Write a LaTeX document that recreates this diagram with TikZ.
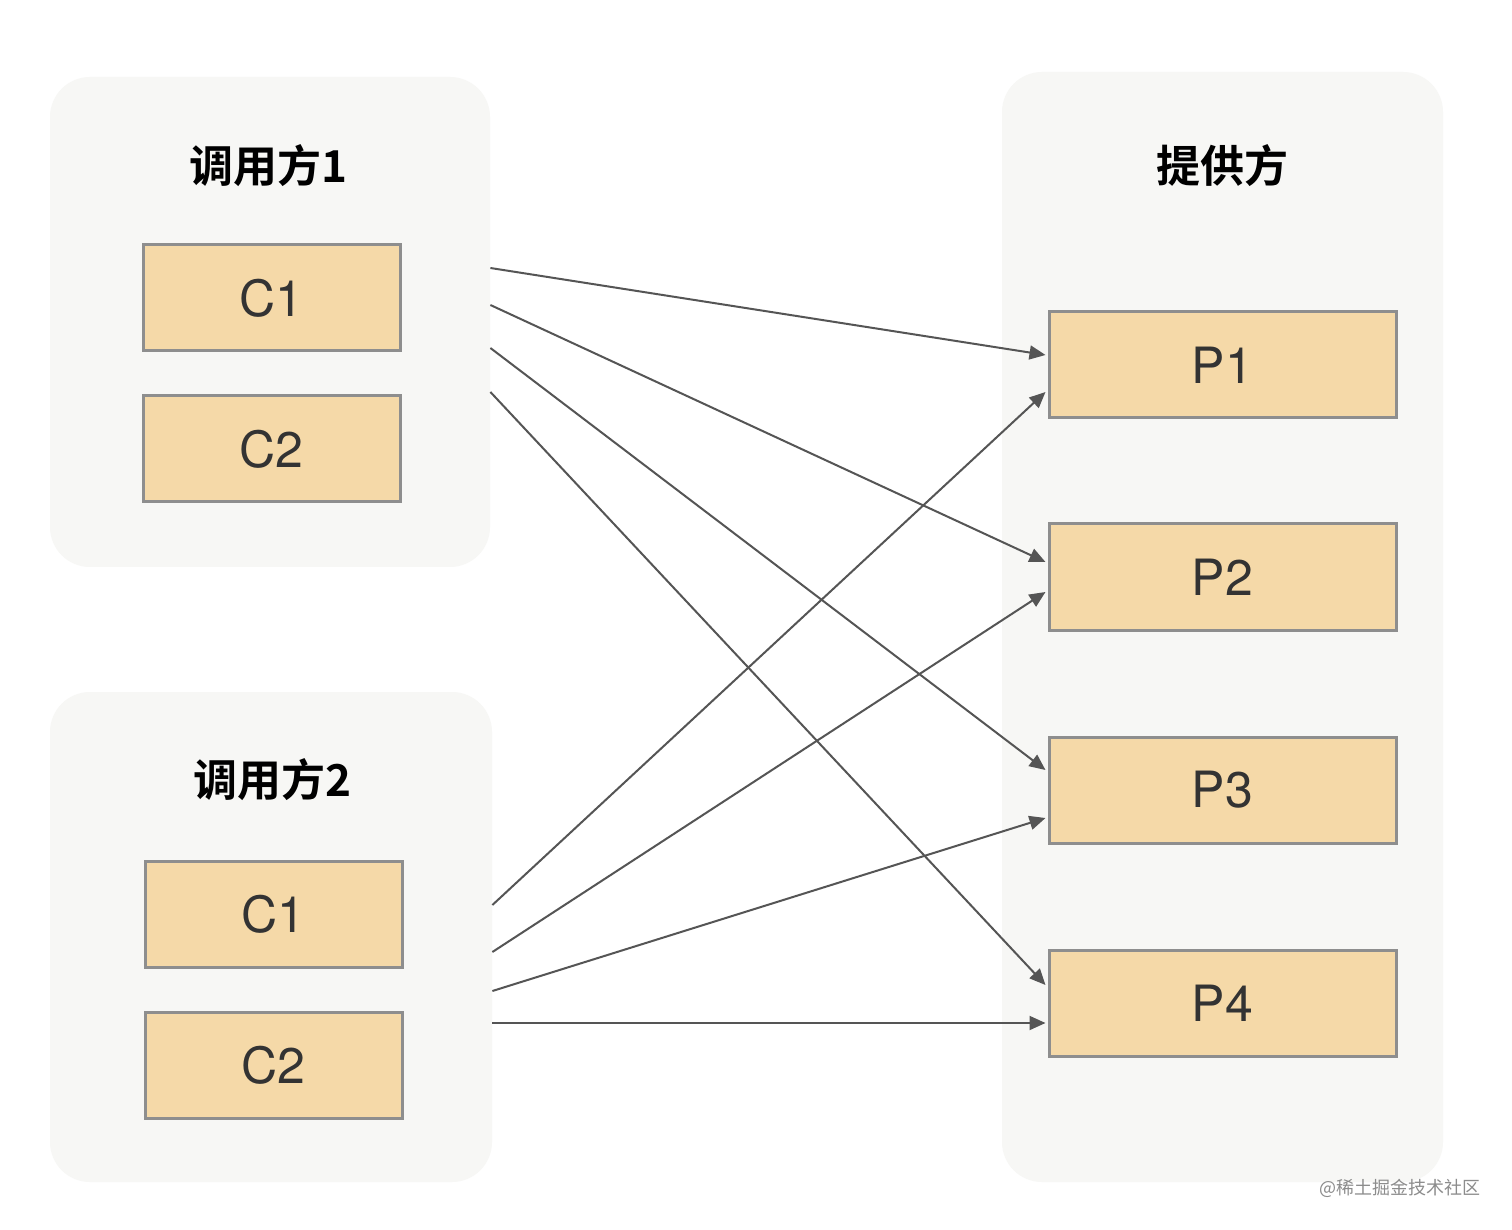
\documentclass[tikz,border=0pt]{standalone}
\usepackage{fontspec}
\setmainfont{TeX Gyre Heros}
\newfontfamily\cjkbold[BoldFont={Noto Sans CJK SC Bold}]{Noto Sans CJK SC}
\newfontfamily\cjk{Noto Sans CJK SC}
\usetikzlibrary{arrows.meta}

\definecolor{panelgray}{HTML}{F7F7F5}
\definecolor{boxfill}{HTML}{F5D9A8}
\definecolor{boxline}{HTML}{8E8E8E}
\definecolor{linkgray}{HTML}{555555}

\tikzset{
    panel/.style={fill=panelgray, draw=none, rounded corners=20pt, inner sep=0pt},
    box/.style={fill=boxfill, draw=boxline, line width=1.5pt, inner sep=0pt,
        font=\fontsize{25}{30}\selectfont, text=black!80},
    title/.style={font=\cjkbold\bfseries\fontsize{22}{26}\selectfont},
    link/.style={draw=linkgray, line width=1pt, -{Triangle[length=8pt, width=7pt]}}
}

\begin{document}
\begin{tikzpicture}[x=0.5pt, y=-0.5pt]
    \useasboundingbox[fill=white] (0,0) rectangle (1512,1230);

    % Paneles
    \node[panel, minimum width=220pt, minimum height=245pt] (g1) at (270,322) {};
    \node[panel, minimum width=221pt, minimum height=245pt] (g2) at (271,937) {};
    \node[panel, minimum width=220.5pt, minimum height=555pt] (prov) at (1222.5,627) {};

    % Titulos
    \node[title] (t1) at (268,166) {调用方1};
    \node[title] (t2) at (272,780) {调用方2};
    \node[title] (t3) at (1222,166) {提供方};

    % Cajas del consumidor
    \node[box, minimum width=128.5pt, minimum height=53pt] (a1) at (271.5,298) {C1};
    \node[box, minimum width=128.5pt, minimum height=53pt] (a2) at (271.5,449) {C2};
    \node[box, minimum width=128.5pt, minimum height=53pt] (b1) at (273.5,914) {C1};
    \node[box, minimum width=128.5pt, minimum height=53pt] (b2) at (273.5,1065) {C2};

    % Cajas del proveedor
    \node[box, minimum width=173.5pt, minimum height=53pt] (p1) at (1222.5,365) {P1};
    \node[box, minimum width=173.5pt, minimum height=53pt] (p2) at (1222.5,577) {P2};
    \node[box, minimum width=173.5pt, minimum height=53pt] (p3) at (1222.5,790) {P3};
    \node[box, minimum width=173.5pt, minimum height=53pt] (p4) at (1222.5,1003) {P4};

    % Flechas desde el grupo 1
    \draw[link] ([yshift=27pt]g1.east) -- ([xshift=-1pt, yshift=5pt]p1.west);
    \draw[link] ([yshift=8.5pt]g1.east) -- ([xshift=-1pt, yshift=7.5pt]p2.west);
    \draw[link] ([yshift=-13pt]g1.east) -- ([xshift=-1pt, yshift=10pt]p3.west);
    \draw[link] ([yshift=-35pt]g1.east) -- ([xshift=-1pt, yshift=9pt]p4.west);

    % Flechas desde el grupo 2
    \draw[link] ([yshift=16pt]g2.east) -- ([xshift=-1pt, yshift=-13.5pt]p1.west);
    \draw[link] ([yshift=-7.5pt]g2.east) -- ([xshift=-1pt, yshift=-7.5pt]p2.west);
    \draw[link] ([yshift=-27pt]g2.east) -- ([xshift=-1pt, yshift=-14pt]p3.west);
    \draw[link] ([yshift=-43pt]g2.east) -- ([xshift=-1pt, yshift=-10pt]p4.west);

    % Marca de agua
    \node[font=\cjk\fontsize{9}{11}\selectfont, text=black!45] (wm) at (1400,1188) {@稀土掘金技术社区};
\end{tikzpicture}
\end{document}
